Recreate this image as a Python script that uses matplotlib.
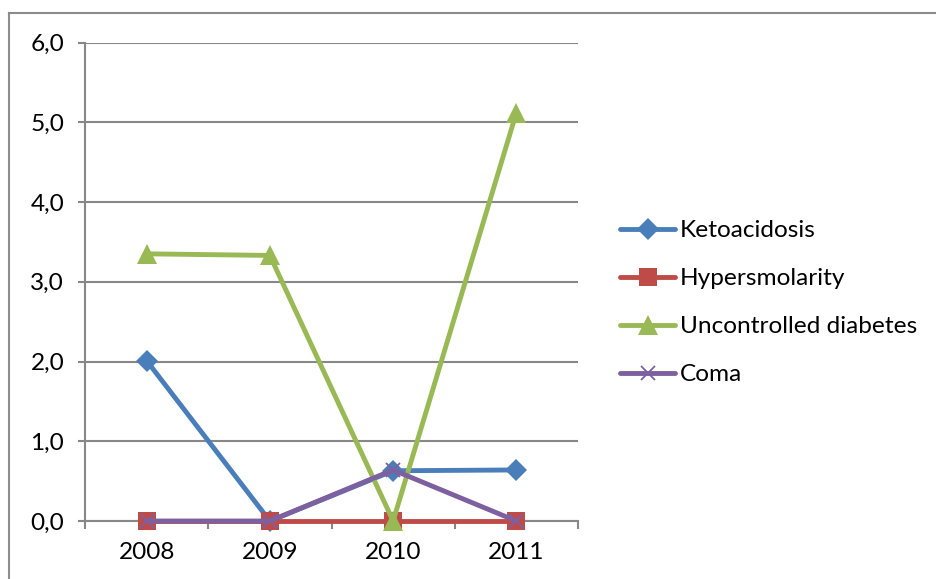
import matplotlib
matplotlib.use("Agg")
import matplotlib.pyplot as plt
from matplotlib.lines import Line2D
from matplotlib.ticker import FuncFormatter, FixedLocator

years = ["2008", "2009", "2010", "2011"]
ketoacidosis = [2.01, 0.0, 0.63, 0.64]
hypersmolarity = [0.0, 0.0, 0.0, 0.0]
uncontrolled = [3.35, 3.33, 0.0, 5.12]
coma = [0.0, 0.0, 0.64, 0.0]

series = [
    ("Ketoacidosis", ketoacidosis, "#4A7EBB", "D", 11),
    ("Hypersmolarity", hypersmolarity, "#BE4B48", "s", 13.5),
    ("Uncontrolled diabetes", uncontrolled, "#98B954", "^", 15),
    ("Coma", coma, "#7D60A0", "x", 9.5),
]

plt.rcParams["font.family"] = ["Lato", "DejaVu Sans"]
FS = 17.6
W, H = 936, 579
fig = plt.figure(figsize=(W / 100, H / 100), dpi=100)

# chart-area frame
frame_color = "#8c8c8c"
fig.add_artist(Line2D([9 / W, 9 / W], [1 - 13 / H, 0], transform=fig.transFigure,
                      color=frame_color, lw=1.5))
fig.add_artist(Line2D([9 / W, 1], [1 - 13 / H, 1 - 13 / H], transform=fig.transFigure,
                      color=frame_color, lw=1.5))

left, right, top, bottom = 85, 578, 42.5, 521
ax = fig.add_axes([left / W, 1 - bottom / H, (right - left) / W, (bottom - top) / H])

x = list(range(len(years)))
for name, vals, color, marker, ms in series:
    kw = dict(markeredgewidth=1.3) if marker == "x" else dict(markeredgewidth=0)
    ax.plot(x, vals, color=color, lw=3.5, marker=marker, markersize=ms,
            label=name, solid_capstyle="round", solid_joinstyle="round",
            clip_on=False, zorder=3, **kw)

ax.set_xlim(-0.5, len(years) - 0.5)
ax.set_ylim(0, 6)

grid_color = "#878787"
ax.set_yticks(range(0, 7))
ax.yaxis.set_major_formatter(FuncFormatter(lambda v, p: f"{v:.1f}".replace(".", ",")))
ax.grid(axis="y", color=grid_color, lw=1.5, zorder=1)
ax.set_axisbelow(True)

ax.set_xticks(x)
ax.set_xticklabels(years)
ax.xaxis.set_minor_locator(FixedLocator([i - 0.5 for i in range(len(years) + 1)]))
ax.tick_params(axis="x", which="major", length=0, pad=15, labelsize=FS)
ax.tick_params(axis="x", which="minor", length=6, width=1.5, color=grid_color, direction="out")
ax.tick_params(axis="y", length=5, width=1.5, color=grid_color, pad=10, labelsize=FS)

for s in ("top", "right"):
    ax.spines[s].set_visible(False)
for s in ("left", "bottom"):
    ax.spines[s].set_color(grid_color)
    ax.spines[s].set_linewidth(1.5)

leg = fig.legend(loc="upper left", bbox_to_anchor=(620 / W, 1 - 220 / H),
                 frameon=False, fontsize=FS, handlelength=2.25, handletextpad=0.2,
                 labelspacing=1.1, borderaxespad=0, borderpad=0)

fig.savefig("out.png", dpi=100)
